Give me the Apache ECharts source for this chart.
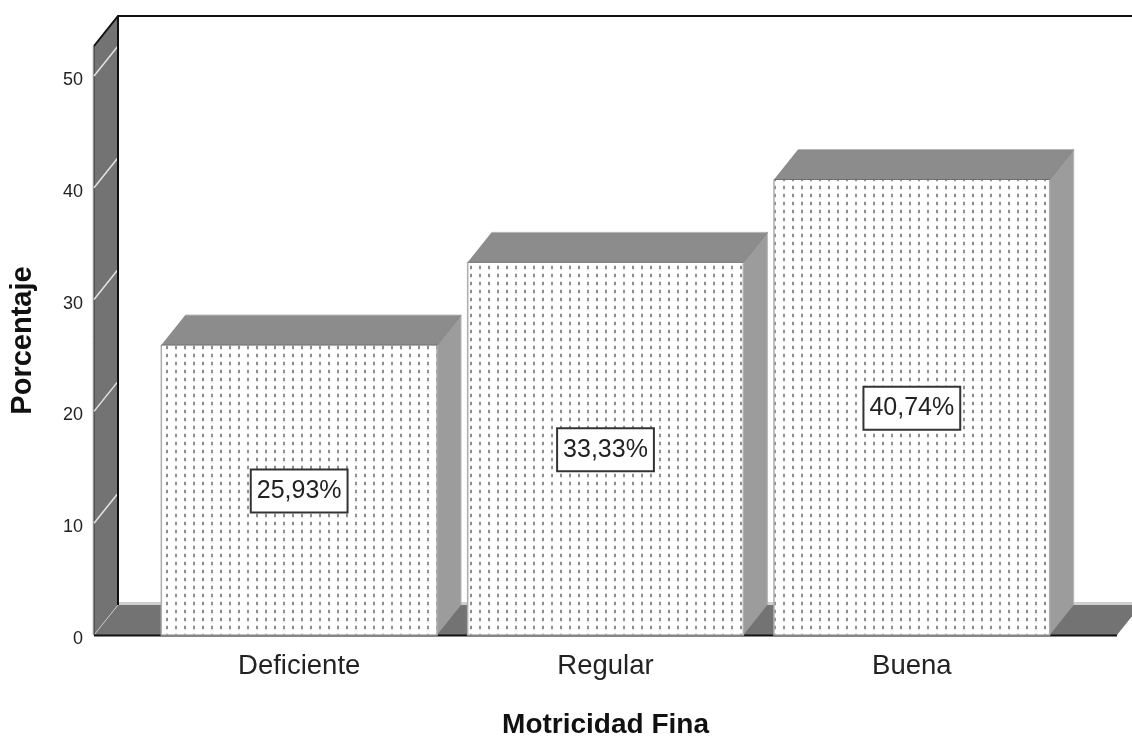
<!DOCTYPE html>
<html><head><meta charset="utf-8">
<style>html,body{margin:0;padding:0;background:#fff}#c{width:1132px;height:738px}</style>
<script src="https://cdn.jsdelivr.net/npm/echarts@6/dist/echarts.min.js"></script>
</head><body><div id="c"></div>
<script>
const categories = ['Deficiente', 'Regular', 'Buena'];
const values = [25.93, 33.33, 40.74];
const valueLabels = ['25,93%', '33,33%', '40,74%'];
const yTicks = [0, 10, 20, 30, 40, 50];
const depthX = 24, depthY = -30;
const patternShift = [5, 2, 0];
const FONT = '"Liberation Sans", Arial, sans-serif';

const tile = document.createElement('canvas');
tile.width = 9; tile.height = 8;
const t = tile.getContext('2d');
t.fillStyle = '#fff'; t.fillRect(0, 0, 9, 8);
t.fillStyle = '#e2e2e2'; t.fillRect(0, 1, 2, 5);
t.fillStyle = '#8f8f8f'; t.fillRect(0, 2, 2, 3);

const chart = echarts.init(document.getElementById('c'), null, {renderer: 'canvas'});
const poly = (points, fill, z2) => ({type: 'polygon', shape: {points}, style: {fill, stroke: null}, z2});
const line = (p, stroke, lineWidth, z2) => ({type: 'polyline', shape: {points: p}, style: {stroke, lineWidth, fill: null}, z2});

function renderWall(params, api) {
  const cs = params.coordSys;
  const left = cs.x - 52;
  const right = 1117;
  const bottom = cs.y + cs.height, top = cs.y;
  const children = [
    poly([[left, bottom], [left + depthX, bottom + depthY], [left + depthX, top + depthY], [left, top]], '#737373', 1),
    poly([[left, bottom], [right, bottom], [right + depthX, bottom + depthY], [left + depthX, bottom + depthY]], '#737373', 1),
    line([[left + depthX, bottom + depthY - 1.5], [1132, bottom + depthY - 1.5]], '#cfcfcf', 3, 2),
    line([[left, bottom], [left + depthX, bottom + depthY]], '#c4c4c4', 1, 3),
    line([[left - 1, bottom], [left - 1, top]], '#c8c8c8', 1, 3),
    line([[left, top], [left, bottom]], '#333', 1, 3),
    line([[left, top], [left + depthX, top + depthY], [1132, top + depthY]], '#111', 2, 4),
    line([[left + depthX, top + depthY], [left + depthX, bottom + depthY]], '#111', 2, 4),
    line([[left, bottom + 0.5], [right, bottom + 0.5]], '#111', 2, 4)
  ];
  yTicks.forEach(v => {
    if (v === 0) return;
    const y = api.coord([0, v])[1];
    children.push(line([[left, y], [left + depthX, y + depthY]], '#e4e4e4', 1.5, 3));
  });
  return {type: 'group', children};
}

function renderBar(params, api) {
  const i = api.value(0), v = api.value(1);
  const c = api.coord([i, v]), b = api.coord([i, 0]);
  const w = api.size([1, 0])[0] * 0.9;
  const x0 = c[0] - w / 2, x1 = c[0] + w / 2, y0 = c[1], y1 = b[1];
  const midY = api.coord([i, v / 2])[1];
  return {type: 'group', children: [
    poly([[x1, y1], [x1, y0], [x1 + depthX, y0 + depthY], [x1 + depthX, y1 + depthY]], '#9c9c9c', 1),
    poly([[x0, y0], [x1, y0], [x1 + depthX, y0 + depthY], [x0 + depthX, y0 + depthY]], '#8c8c8c', 1),
    line([[x0 + depthX, y0 + depthY], [x1 + depthX, y0 + depthY], [x1 + depthX, y1 + depthY]], '#b5b5b5', 1, 2),
    line([[x1, y0], [x1 + depthX, y0 + depthY]], '#808080', 1, 2),
    {type: 'rect', shape: {x: x0, y: y0, width: w, height: y1 - y0},
      style: {fill: {image: tile, repeat: 'repeat', x: Math.round(x0) + patternShift[i], y: y1 - 3}, stroke: null}, z2: 3},
    line([[x0, y0], [x0, y1], [x1, y1], [x1, y0]], '#adadad', 1.5, 4),
    line([[x0, y0], [x1, y0]], '#6e6e6e', 1, 4),
    {type: 'text', x: c[0], y: midY + 1, z2: 6,
      style: {text: valueLabels[i], font: '25px ' + FONT, fill: '#222', align: 'center', verticalAlign: 'middle',
        backgroundColor: '#fff', borderColor: '#333', borderWidth: 2, padding: [9, 5, 7, 5]}}
  ]};
}

chart.setOption({
  animation: false,
  backgroundColor: '#fff',
  grid: {left: 146, top: 46, width: 919, height: 589, containLabel: false, outerBoundsMode: 'none'},
  xAxis: {
    type: 'category', data: categories,
    axisLine: {show: false}, axisTick: {show: false},
    axisLabel: {fontFamily: FONT, fontSize: 27.5, color: '#222', margin: 17},
    name: 'Motricidad Fina', nameLocation: 'middle', nameGap: 76,
    nameTextStyle: {fontFamily: FONT, fontSize: 28, fontWeight: 'bold', color: '#111'}
  },
  yAxis: {
    type: 'value', min: 0, max: 52.68, interval: 10,
    splitLine: {show: false}, axisLine: {show: false}, axisTick: {show: false},
    axisLabel: {fontFamily: FONT, fontSize: 18, color: '#222', margin: 63, verticalAlign: 'top', lineHeight: 8,
      showMaxLabel: false},
    name: 'Porcentaje', nameLocation: 'middle', nameGap: 109,
    nameTextStyle: {fontFamily: FONT, fontSize: 29, fontWeight: 'bold', color: '#111'}
  },
  series: [
    {type: 'custom', silent: true, clip: false, z: 1, renderItem: renderWall, data: [[0, 0]], encode: {x: 0, y: 1}},
    {type: 'custom', silent: true, clip: false, z: 2, renderItem: renderBar,
      data: values.map((v, i) => [i, v]), encode: {x: 0, y: 1}}
  ]
});
</script></body></html>
